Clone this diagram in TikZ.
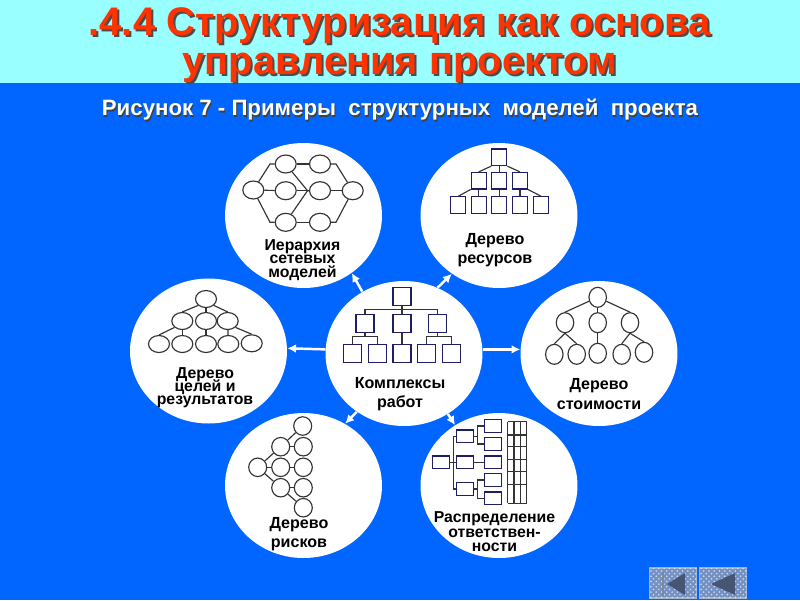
\documentclass[tikz,border=0pt]{standalone}
\usepackage{fontspec}
\setmainfont{Liberation Sans}
\usetikzlibrary{arrows.meta,shapes.geometric,patterns}
\lineskiplimit=-20pt
\definecolor{slideblue}{RGB}{0,102,255}
\definecolor{bandcyan}{RGB}{153,255,255}
\definecolor{titlered}{RGB}{255,51,0}
\definecolor{boxnavy}{RGB}{30,30,100}
\definecolor{navfill}{RGB}{115,145,195}
\definecolor{navdark}{RGB}{70,85,115}
\tikzset{
    bubble/.style={ellipse, fill=white, inner sep=0pt, minimum width=3.14cm, minimum height=2.9cm},
    flowarrow/.style={-{Latex[length=5pt,width=5pt]}, white, line width=1.4pt},
    treeline/.style={draw=black!80, line width=0.65pt},
    oval/.style={ellipse, draw=black!80, line width=0.65pt, inner sep=0pt, minimum width=#1},
    oval/.default=0.42cm,
    netoval/.style={oval=0.42cm, minimum height=0.36cm},
    goaloval/.style={oval=0.42cm, minimum height=0.34cm},
    costoval/.style={oval=0.35cm, minimum height=0.40cm},
    riskoval/.style={oval=0.36cm, minimum height=0.37cm},
    square/.style={rectangle, draw=boxnavy, line width=0.65pt, inner sep=0pt},
    resbox/.style={square, minimum width=0.30cm, minimum height=0.33cm},
    workbox/.style={square, minimum width=0.36cm, minimum height=0.36cm},
    dutybox/.style={square, minimum width=0.34cm, minimum height=0.25cm},
    tightlabel/.style={align=center, inner sep=0pt, font=\bfseries\fontsize{9}{7.5}\selectfont},
    widelabel/.style={align=center, inner sep=0pt, font=\bfseries\fontsize{9.15}{11.2}\selectfont},
    titletext/.style={align=center, inner sep=0pt, font=\bfseries\fontsize{22.7}{22.2}\selectfont},
    subtext/.style={inner sep=0pt, font=\bfseries\fontsize{12.65}{13}\selectfont},
    navbutton/.style={rectangle, draw=black!10!navfill!60!white, line width=0.6pt, inner sep=0pt, minimum width=0.95cm, minimum height=0.6cm,
        fill=navfill, postaction={pattern=crosshatch dots, pattern color=white!70!navfill}},
}

\begin{document}
\begin{tikzpicture}[x=0.02cm, y=-0.02cm]
    \useasboundingbox (0,0) rectangle (800,600);

    % Background and heading
    \fill[slideblue] (0,0) rectangle (800,600);
    \fill[bandcyan] (0,0) rectangle (800,83);
    \node[titletext, black!70] (titleshade) at (401.5,47) {.4.4 Структуризация как основа\\управления проектом};
    \node[titletext, titlered] (title) at (399.5,45) {.4.4 Структуризация как основа\\управления проектом};
    \node[subtext, black!75] (subshade) at (401,111.5) {Рисунок 7 - Примеры~~структурных~~моделей~~проекта};
    \node[subtext, white] (sub) at (400,110) {Рисунок 7 - Примеры~~структурных~~моделей~~проекта};

    % The seven large bubbles
    \node[bubble] (hier) at (303.5,215.5) {};
    \node[bubble] (res) at (499,215.5) {};
    \node[bubble] (goal) at (208.5,351) {};
    \node[bubble] (work) at (404,353.5) {};
    \node[bubble] (cost) at (599,353.5) {};
    \node[bubble] (risk) at (303.5,485.5) {};
    \node[bubble] (duty) at (499,485.5) {};

    % Arrows out of the middle bubble
    \draw[flowarrow] (work.124) -- (hier.-50);
    \draw[flowarrow] (work.63) -- (res.231);
    \draw[flowarrow] (work.177) -- (goal.2);
    \draw[flowarrow] (work.3) -- (cost.177);
    \draw[flowarrow] (work.231) -- (risk.56);
    \draw[flowarrow] (work.306) -- (duty.126);

    % Network hierarchy
    \node[netoval] (hl) at (253.3,190) {};
    \node[netoval] (ht1) at (285.7,164) {};
    \node[netoval] (ht2) at (320,164) {};
    \node[netoval] (hm1) at (285.7,190.7) {};
    \node[netoval] (hm2) at (320,190.7) {};
    \node[netoval] (hr) at (352.7,190.7) {};
    \node[netoval] (hb1) at (285.7,222.3) {};
    \node[netoval] (hb2) at (320,222.3) {};
    \draw[treeline] (hl) -- (270,164) -- (ht1);
    \draw[treeline] (hl) -- (hm1);
    \draw[treeline] (hl) -- (270,222.3) -- (hb1);
    \draw[treeline] (ht1) -- (ht2);
    \draw[treeline] (hm1) -- (hm2);
    \draw[treeline] (hb1) -- (hb2);
    \draw[treeline] (ht1) -- (307.5,190.7) -- (hm2);
    \draw[treeline] (hb1) -- (307.5,190.7);
    \draw[treeline] (ht2) -- (336,164) -- (hr);
    \draw[treeline] (hm2) -- (hr);
    \draw[treeline] (hb2) -- (336,222.3) -- (hr);
    \node[tightlabel] (hiertext) at (302.5,260) {Иерархия\\сетевых\\моделей};

    % Resource tree
    \node[resbox] (r0) at (499.3,157.3) {};
    \node[resbox] (r1) at (478.7,180.7) {};
    \node[resbox] (r2) at (499.3,180.7) {};
    \node[resbox] (r3) at (520,180.7) {};
    \node[resbox] (r4) at (458.3,205) {};
    \node[resbox] (r5) at (478.7,205) {};
    \node[resbox] (r6) at (499.3,205) {};
    \node[resbox] (r7) at (520,205) {};
    \node[resbox] (r8) at (541,205) {};
    \draw[treeline] (r0.south west) -- (r1.north);
    \draw[treeline] (r0) -- (r2);
    \draw[treeline] (r0.south east) -- (r3.north);
    \draw[treeline] (r1.south west) -- (r4.north);
    \draw[treeline] (r1) -- (r5);
    \draw[treeline] (r2) -- (r6);
    \draw[treeline] (r3) -- (r7);
    \draw[treeline] (r3.south east) -- (r8.north);
    \node[widelabel] (restext) at (495,250) {Дерево\\ресурсов};

    % Goal tree
    \node[goaloval] (g0) at (206,299) {};
    \node[goaloval] (g1) at (182.3,321) {};
    \node[goaloval] (g2) at (206,321) {};
    \node[goaloval] (g3) at (227.7,321) {};
    \node[goaloval] (g4) at (159,344) {};
    \node[goaloval] (g5) at (182.3,344) {};
    \node[goaloval] (g6) at (206,344) {};
    \node[goaloval] (g7) at (228.3,344) {};
    \node[goaloval] (g8) at (251.7,343.3) {};
    \draw[treeline] (g0.south west) -- (g1.north);
    \draw[treeline] (g0) -- (g2);
    \draw[treeline] (g0.south east) -- (g3.north);
    \draw[treeline] (g1.south west) -- (g4.north);
    \draw[treeline] (g1) -- (g5);
    \draw[treeline] (g2) -- (g6);
    \draw[treeline] (g3) -- (g7);
    \draw[treeline] (g3.south east) -- (g8.north);
    \node[tightlabel] (goaltext) at (205,388) {Дерево\\целей и\\результатов};

    % Work packages
    \node[workbox] (w0) at (402,296.7) {};
    \node[workbox] (w1) at (365,323.3) {};
    \node[workbox] (w2) at (402,323.3) {};
    \node[workbox] (w3) at (437.3,323.3) {};
    \node[workbox] (w4) at (352.3,353.3) {};
    \node[workbox] (w5) at (377.3,353.3) {};
    \node[workbox] (w6) at (402,353.3) {};
    \node[workbox] (w7) at (426.7,353.3) {};
    \node[workbox] (w8) at (451.3,353.3) {};
    \draw[treeline] (w0) -- (w2);
    \draw[treeline] (w0.south) ++(0,3.5) -| (w1.north);
    \draw[treeline] (w0.south) ++(0,3.5) -| (w3.north);
    \draw[treeline] (w1.south) -- ++(0,4) -| (w4.north);
    \draw[treeline] (w1.south) -- ++(0,4) -| (w5.north);
    \draw[treeline] (w2) -- (w6);
    \draw[treeline] (w3.south) -- ++(0,4) -| (w7.north);
    \draw[treeline] (w3.south) -- ++(0,4) -| (w8.north);
    \node[widelabel] (worktext) at (400,394) {Комплексы\\работ};

    % Cost tree
    \node[costoval] (c0) at (597.7,297.3) {};
    \node[costoval] (c1) at (565,322.7) {};
    \node[costoval] (c2) at (597.7,322.7) {};
    \node[costoval] (c3) at (630,322.7) {};
    \node[costoval] (c4) at (554.3,354.3) {};
    \node[costoval] (c5) at (576.7,354.3) {};
    \node[costoval] (c6) at (597.7,353.3) {};
    \node[costoval] (c7) at (621.7,354.3) {};
    \node[costoval] (c8) at (644,352.3) {};
    \draw[treeline] (c0) -- (c1.north);
    \draw[treeline] (c0) -- (c2);
    \draw[treeline] (c0) -- (c3.north);
    \draw[treeline] (c1.south) -- (c4.north);
    \draw[treeline] (c1.south) -- (c5.north);
    \draw[treeline] (c2) -- (c6);
    \draw[treeline] (c3.south) -- (c7.north);
    \draw[treeline] (c3.south) -- (c8.north);
    \node[widelabel] (costtext) at (599,394) {Дерево\\стоимости};

    % Risk tree
    \node[riskoval] (k0) at (257.7,467.3) {};
    \node[riskoval] (k1) at (280.7,446.7) {};
    \node[riskoval] (k2) at (280.7,467.3) {};
    \node[riskoval] (k3) at (280.7,487.7) {};
    \node[riskoval] (k4) at (302.7,426) {};
    \node[riskoval] (k5) at (303.3,446.7) {};
    \node[riskoval] (k6) at (303.3,467.3) {};
    \node[riskoval] (k7) at (303.3,487.7) {};
    \node[riskoval] (k8) at (303.3,507.7) {};
    \draw[treeline] (k0) -- (k1);
    \draw[treeline] (k0) -- (k2);
    \draw[treeline] (k0) -- (k3);
    \draw[treeline] (k1) -- (k4);
    \draw[treeline] (k1) -- (k5);
    \draw[treeline] (k2) -- (k6);
    \draw[treeline] (k3) -- (k7);
    \draw[treeline] (k3) -- (k8);
    \node[widelabel] (risktext) at (299,534) {Дерево\\рисков};

    % Responsibility chart
    \node[dutybox] (d0) at (440.7,462.3) {};
    \node[dutybox] (d1) at (465,436.3) {};
    \node[dutybox] (d2) at (465,462.3) {};
    \node[dutybox] (d3) at (465,489) {};
    \node[dutybox] (d4) at (492.7,426) {};
    \node[dutybox] (d5) at (492.7,444) {};
    \node[dutybox] (d6) at (492.7,462.3) {};
    \node[dutybox] (d7) at (492.7,480) {};
    \node[dutybox] (d8) at (492.7,498.3) {};
    \draw[treeline] (d0) -- (d2);
    \draw[treeline] (d0.east) -- ++(3.6,0) |- (d1.west);
    \draw[treeline] (d0.east) -- ++(3.6,0) |- (d3.west);
    \draw[treeline] (d1.east) -- ++(3.2,0) |- (d4.west);
    \draw[treeline] (d1.east) -- ++(3.2,0) |- (d5.west);
    \draw[treeline] (d2) -- (d6);
    \draw[treeline] (d3.east) -- ++(3.2,0) |- (d7.west);
    \draw[treeline] (d3.east) -- ++(3.2,0) |- (d8.west);
    \foreach \xcol in {507.7,514,520.3,526.7}
        \draw[treeline] (\xcol,421.7) -- (\xcol,503.3);
    \foreach \yrow in {421.7,435,446.7,459.3,471.7,484.3,503.3}
        \draw[treeline] (507.7,\yrow) -- (526.7,\yrow);
    \node[tightlabel] (dutytext) at (494.5,532) {Распределение\\[0.8pt]ответствен-\\[0.8pt]ности};

    % Navigation buttons
    \node[navbutton] (navfirst) at (673,583) {};
    \node[navbutton] (navprev) at (723,583) {};
    \fill[navdark] (667,584) -- (685,573) -- (685,595) -- cycle;
    \fill[navdark!70!white] (661.5,572) rectangle (663.5,596);
    \fill[navdark] (711,584) -- (735,573) -- (735,595) -- cycle;

\end{tikzpicture}
\end{document}
